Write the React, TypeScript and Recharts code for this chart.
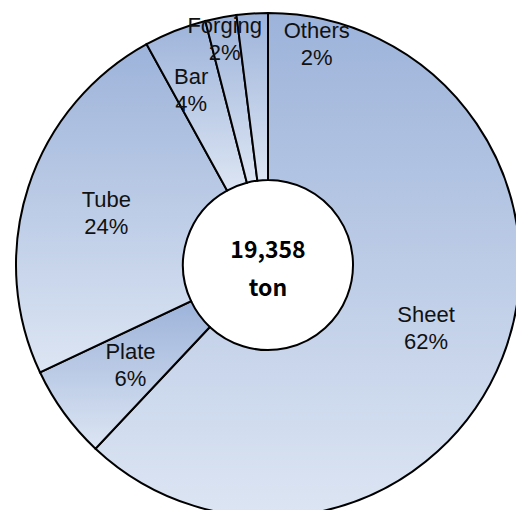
import React from "react";
import { PieChart, Pie, Cell, Label } from "recharts";

// product mix, share of total shipments (%)
const categories = ["Sheet", "Plate", "Tube", "Bar", "Forging", "Others"];
const shares = [62, 6, 24, 4, 2, 2];
const totalLabel = "19,358";
const unitLabel = "ton";

const data = categories.map((name, i) => ({ name, value: shares[i] }));

const CX = 268;
const CY = 265;

// label placement per slice: radius from center and angle nudge (deg)
const labelPlacement: Record<string, { r: number; da: number }> = {
  Bar: { r: 192, da: 2 },
  Forging: { r: 231, da: 0 },
  Others: { r: 227, da: -16 },
};

const RAD = Math.PI / 180;
const FONT = "'Liberation Sans', Arial, sans-serif";

function SliceLabel(props: any) {
  const { cx, cy, midAngle, name, value } = props;
  const place = labelPlacement[name] || { r: 170, da: 0 };
  const a = (midAngle + place.da) * RAD;
  const x = cx + place.r * Math.cos(a);
  const y = cy - place.r * Math.sin(a);
  return (
    <text
      x={x}
      y={y}
      textAnchor="middle"
      dominantBaseline="central"
      fontFamily={FONT}
      fontSize={22}
      fill="#111"
    >
      <tspan x={x} y={y - 13.5}>
        {name}
      </tspan>
      <tspan x={x} y={y + 13.5}>
        {value}%
      </tspan>
    </text>
  );
}

function CenterLabel(props: any) {
  const vb = props.viewBox || {};
  const cx = typeof vb.cx === "number" ? vb.cx : CX;
  const cy = typeof vb.cy === "number" ? vb.cy : CY;
  return (
    <text
      textAnchor="middle"
      dominantBaseline="central"
      fontFamily="'Noto Sans CJK JP', 'Noto Sans', sans-serif"
      fontWeight="bold"
      fontSize={23}
      fill="#000"
    >
      <tspan x={cx} y={cy - 17}>
        {totalLabel}
      </tspan>
      <tspan x={cx} y={cy + 21}>
        {unitLabel}
      </tspan>
    </text>
  );
}

export default function App() {
  return (
    <div style={{ margin: -8, width: 524, height: 518, background: "#fff" }}>
      <PieChart width={524} height={518} margin={{ top: 0, right: 0, bottom: 0, left: 0 }}>
        <defs>
          <linearGradient id="sliceFill" x1="0" y1="0" x2="0" y2="1">
            <stop offset="0%" stopColor="#9db3da" />
            <stop offset="100%" stopColor="#dce5f3" />
          </linearGradient>
        </defs>
        <Pie
          data={data}
          dataKey="value"
          nameKey="name"
          cx={CX}
          cy={CY}
          innerRadius={85}
          outerRadius={252}
          startAngle={90}
          endAngle={-270}
          stroke="#000"
          strokeWidth={2}
          labelLine={false}
          label={SliceLabel}
          isAnimationActive={false}
        >
          {data.map((d) => (
            <Cell key={d.name} fill="url(#sliceFill)" />
          ))}
          <Label position="center" content={CenterLabel} />
        </Pie>
      </PieChart>
    </div>
  );
}
